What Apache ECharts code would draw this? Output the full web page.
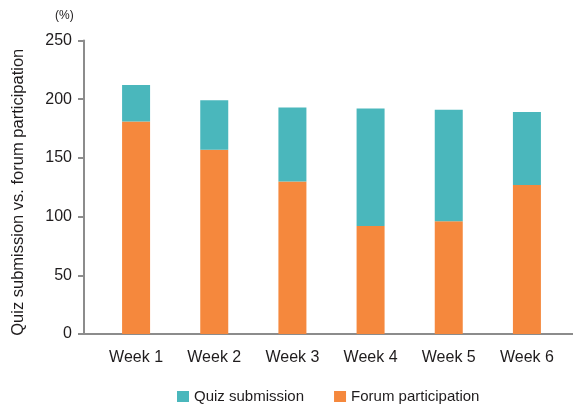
<!DOCTYPE html>
<html>
<head>
<meta charset="utf-8">
<script src="https://cdn.jsdelivr.net/npm/echarts@6/dist/echarts.min.js"></script>
<style>
  html, body { margin: 0; padding: 0; background: #fff; }
  #chart { width: 573px; height: 408px; }
</style>
</head>
<body>
<div id="chart"></div>
<script>
// Weekly share of quiz submissions stacked on forum participation (%)
const weeks = ['Week 1', 'Week 2', 'Week 3', 'Week 4', 'Week 5', 'Week 6'];
const forumParticipation = [181, 157, 130, 92, 96, 127];
const quizSubmission = [31, 42, 63, 100, 95, 62];
const seriesNames = ['Quiz submission', 'Forum participation'];
const yTicks = [0, 50, 100, 150, 200, 250];

const FONT = 'Liberation Sans';
const TEXT = '#1f1c1d';
const AXIS = '#8c8c8c';
const TEAL = '#4ab7bc';
const ORANGE = '#f5883d';

const chart = echarts.init(document.getElementById('chart'), null, { renderer: 'canvas' });

const plotTop = 40.5;
const plotBottom = 74;

chart.setOption({
  animation: false,
  textStyle: { fontFamily: FONT, color: TEXT },
  title: {
    text: '(%)',
    left: 50,
    top: 5,
    textStyle: { fontFamily: FONT, fontSize: 12, fontWeight: 'normal', color: TEXT }
  },
  legend: {
    data: seriesNames,
    left: 172,
    top: 384,
    itemWidth: 12,
    itemHeight: 11,
    itemGap: 30,
    icon: 'rect',
    textStyle: { fontFamily: FONT, fontSize: 15, color: TEXT }
  },
  grid: [
    // bars
    { left: 97, right: 7, top: plotTop, bottom: plotBottom },
    // axis frame
    { left: 84, right: 0, top: plotTop, bottom: plotBottom }
  ],
  xAxis: [
    {
      type: 'category',
      gridIndex: 0,
      data: weeks,
      axisLine: { show: false },
      axisTick: { show: false },
      axisLabel: { fontFamily: FONT, fontSize: 16, color: TEXT, margin: 16 }
    },
    {
      type: 'value',
      gridIndex: 1,
      min: 0,
      max: 1,
      axisLine: { show: true, lineStyle: { color: AXIS, width: 2 } },
      axisTick: { show: false },
      axisLabel: { show: false },
      splitLine: { show: false }
    }
  ],
  yAxis: [
    {
      type: 'value',
      gridIndex: 0,
      min: yTicks[0],
      max: yTicks[yTicks.length - 1],
      interval: 50,
      show: false
    },
    {
      type: 'value',
      gridIndex: 1,
      min: yTicks[0],
      max: yTicks[yTicks.length - 1],
      interval: 50,
      name: 'Quiz submission vs. forum participation',
      nameLocation: 'middle',
      nameGap: 57,
      nameTextStyle: { fontFamily: FONT, fontSize: 16.5, color: TEXT, padding: [0, 10, 0, 0] },
      axisLine: { show: true, lineStyle: { color: AXIS, width: 2 } },
      axisTick: { show: true, length: 6, inside: false, lineStyle: { color: AXIS, width: 2 } },
      axisLabel: { fontFamily: FONT, fontSize: 16, color: TEXT, margin: 12 },
      splitLine: { show: false }
    }
  ],
  series: [
    {
      name: 'Forum participation',
      type: 'bar',
      stack: 'total',
      xAxisIndex: 0,
      yAxisIndex: 0,
      barWidth: 28,
      itemStyle: { color: ORANGE },
      data: forumParticipation
    },
    {
      name: 'Quiz submission',
      type: 'bar',
      stack: 'total',
      xAxisIndex: 0,
      yAxisIndex: 0,
      barWidth: 28,
      itemStyle: { color: TEAL },
      data: quizSubmission
    }
  ]
});
</script>
</body>
</html>
